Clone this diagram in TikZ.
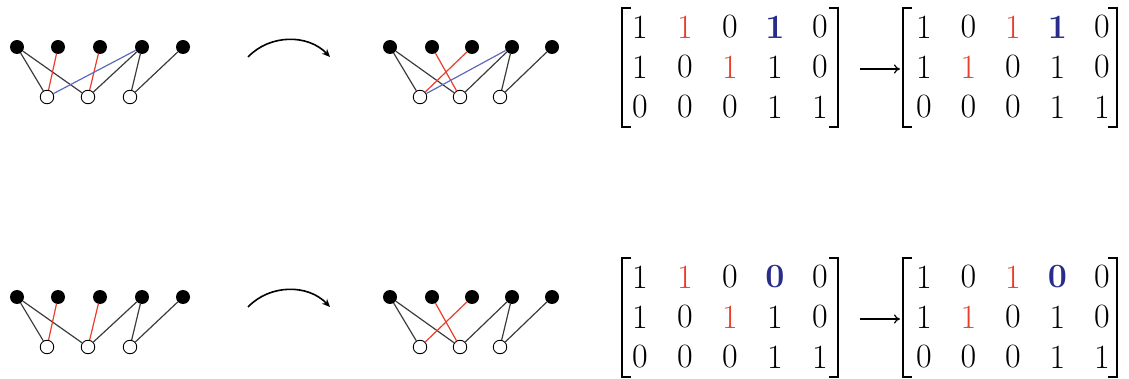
\documentclass[tikz,border=0pt]{standalone}
\usetikzlibrary{arrows.meta}
\definecolor{redc}{RGB}{232,62,42}
\definecolor{bluec}{RGB}{40,45,140}
\definecolor{bedgec}{RGB}{95,105,185}
\definecolor{edgec}{RGB}{60,60,60}
\newcommand\Rd[1]{\textcolor{redc}{#1}}
\newcommand\Bd[1]{\textcolor{bluec}{\bfseries #1}}
\tikzset{
  bnode/.style={circle,fill=black,inner sep=0pt,minimum size=14pt},
  wnode/.style={circle,draw=black,fill=white,inner sep=0pt,minimum size=13.5pt,line width=0.9pt},
  edge/.style={draw=edgec,line width=1.2pt},
  redge/.style={draw=redc,line width=1.2pt},
  bedge/.style={draw=bedgec,line width=1.2pt},
  ent/.style={inner sep=0pt,font=\fontsize{34}{40}\selectfont},
  brk/.style={line width=2pt,line cap=butt,line join=miter},
  swaparc/.style={line width=1.6pt,-{Stealth[length=8pt,width=7pt]}},
  maparrow/.style={line width=1.2pt,-{To[length=6pt,width=9pt]}}
}
\begin{document}
\begin{tikzpicture}[x=1pt,y=-1pt]
\useasboundingbox (0,0) rectangle (1129,379);
% ---------- graphs ----------
\foreach \p/\yb/\xb/\xw in {a/47/{17,58,100,142,183}/{47,88,130},
                             b/47/{390,432,472,512,552}/{420,460,500},
                             c/297/{17,58,100,142,183}/{47,88,130},
                             d/297/{390,432,472,512,552}/{420,460,500}} {
  \foreach \x [count=\i] in \xb { \node[bnode] (\p-b\i) at (\x,\yb) {}; }
  \foreach \x [count=\i] in \xw { \node[wnode] (\p-w\i) at (\x,\yb+50) {}; }
}
% top-left
\draw[edge] (a-b1) -- (a-w1); \draw[edge] (a-b1) -- (a-w2);
\draw[edge] (a-b4) -- (a-w2); \draw[edge] (a-b4) -- (a-w3); \draw[edge] (a-b5) -- (a-w3);
\draw[redge] (a-b2) -- (a-w1); \draw[redge] (a-b3) -- (a-w2);
\draw[bedge] (a-b4) -- (a-w1);
% top-right
\draw[edge] (b-b1) -- (b-w1); \draw[edge] (b-b1) -- (b-w2);
\draw[edge] (b-b4) -- (b-w2); \draw[edge] (b-b4) -- (b-w3); \draw[edge] (b-b5) -- (b-w3);
\draw[redge] (b-b3) -- (b-w1); \draw[redge] (b-b2) -- (b-w2);
\draw[bedge] (b-b4) -- (b-w1);
% bottom-left
\draw[edge] (c-b1) -- (c-w1); \draw[edge] (c-b1) -- (c-w2);
\draw[edge] (c-b4) -- (c-w2); \draw[edge] (c-b4) -- (c-w3); \draw[edge] (c-b5) -- (c-w3);
\draw[redge] (c-b2) -- (c-w1); \draw[redge] (c-b3) -- (c-w2);
% bottom-right
\draw[edge] (d-b1) -- (d-w1); \draw[edge] (d-b1) -- (d-w2);
\draw[edge] (d-b4) -- (d-w2); \draw[edge] (d-b4) -- (d-w3); \draw[edge] (d-b5) -- (d-w3);
\draw[redge] (d-b3) -- (d-w1); \draw[redge] (d-b2) -- (d-w2);
% ---------- swap arcs ----------
\coordinate (s1) at (248,57); \coordinate (e1) at (330,57);
\coordinate (s2) at (248,307); \coordinate (e2) at (330,307);
\draw[swaparc] (s1) .. controls (270,34) and (308,34) .. (e1);
\draw[swaparc] (s2) .. controls (270,284) and (308,284) .. (e2);
% ---------- matrices ----------
\foreach \e [count=\c] in {1,\Rd{1},0,\Bd{1},0} {\node[ent] (A-1-\c) at ({640+45*(\c-1)},27) {\e};}
\foreach \e [count=\c] in {1,0,\Rd{1},1,0} {\node[ent] (A-2-\c) at ({640+45*(\c-1)},67) {\e};}
\foreach \e [count=\c] in {0,0,0,1,1} {\node[ent] (A-3-\c) at ({640+45*(\c-1)},107) {\e};}
\foreach \e [count=\c] in {1,0,\Rd{1},\Bd{1},0} {\node[ent] (B-1-\c) at ({924+44.5*(\c-1)},27) {\e};}
\foreach \e [count=\c] in {1,\Rd{1},0,1,0} {\node[ent] (B-2-\c) at ({924+44.5*(\c-1)},67) {\e};}
\foreach \e [count=\c] in {0,0,0,1,1} {\node[ent] (B-3-\c) at ({924+44.5*(\c-1)},107) {\e};}
\foreach \e [count=\c] in {1,\Rd{1},0,\Bd{0},0} {\node[ent] (C-1-\c) at ({640+45*(\c-1)},277) {\e};}
\foreach \e [count=\c] in {1,0,\Rd{1},1,0} {\node[ent] (C-2-\c) at ({640+45*(\c-1)},317) {\e};}
\foreach \e [count=\c] in {0,0,0,1,1} {\node[ent] (C-3-\c) at ({640+45*(\c-1)},357) {\e};}
\foreach \e [count=\c] in {1,0,\Rd{1},\Bd{0},0} {\node[ent] (D-1-\c) at ({924+44.5*(\c-1)},277) {\e};}
\foreach \e [count=\c] in {1,\Rd{1},0,1,0} {\node[ent] (D-2-\c) at ({924+44.5*(\c-1)},317) {\e};}
\foreach \e [count=\c] in {0,0,0,1,1} {\node[ent] (D-3-\c) at ({924+44.5*(\c-1)},357) {\e};}
% brackets
\foreach \yt/\yb in {8/127,258/377} {
  \draw[brk] (631,\yt) -- (622,\yt) -- (622,\yb) -- (631,\yb);
  \draw[brk] (829,\yt) -- (838,\yt) -- (838,\yb) -- (829,\yb);
  \draw[brk] (912,\yt) -- (903,\yt) -- (903,\yb) -- (912,\yb);
  \draw[brk] (1108,\yt) -- (1117,\yt) -- (1117,\yb) -- (1108,\yb);
}
% map arrows
\coordinate (m1s) at (860,69); \coordinate (m1e) at (900,69);
\coordinate (m2s) at (860,319); \coordinate (m2e) at (900,319);
\draw[maparrow] (m1s) -- (m1e);
\draw[maparrow] (m2s) -- (m2e);
\end{tikzpicture}
\end{document}
